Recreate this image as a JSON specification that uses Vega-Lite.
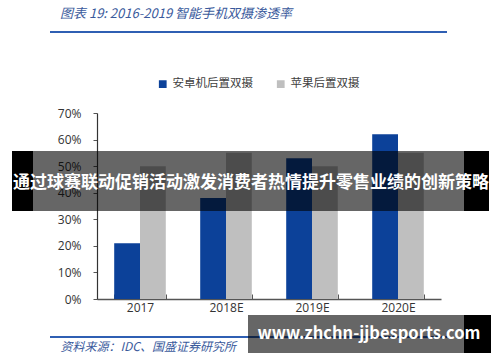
{
  "$schema": "https://vega.github.io/schema/vega-lite/v6.json",
  "autosize": "none",
  "width": 344,
  "height": 186,
  "padding": {"left": 97, "top": 113, "right": 59, "bottom": 63},
  "background": "white",
  "config": {
    "view": {"stroke": null},
    "font": "Noto Sans CJK SC"
  },
  "layer": [
    {
      "data": {"values": [{"px": -47, "px2": 350, "py": -81}, {"px": -47, "px2": 350, "py": 224}]},
      "mark": {"type": "rule", "color": "#2f5fb3", "strokeWidth": 2},
      "encoding": {
        "x": {"field": "px", "type": "quantitative", "scale": null},
        "x2": {"field": "px2"},
        "y": {"field": "py", "type": "quantitative", "scale": null}
      }
    },
    {
      "data": {"values": [
        {"label": "图表 19:  2016-2019 智能手机双摄渗透率", "px": -37, "py": -99}
      ]},
      "mark": {"type": "text", "color": "#3a5a9c", "fontStyle": "italic", "fontSize": 13, "align": "left", "baseline": "middle", "font": "Noto Sans CJK SC"},
      "encoding": {
        "x": {"field": "px", "type": "quantitative", "scale": null},
        "y": {"field": "py", "type": "quantitative", "scale": null},
        "text": {"field": "label"}
      }
    },
    {
      "data": {"values": [
        {"year": "2017", "series": "安卓机后置双摄", "value": 0.21},
        {"year": "2017", "series": "苹果后置双摄", "value": 0.50},
        {"year": "2018E", "series": "安卓机后置双摄", "value": 0.38},
        {"year": "2018E", "series": "苹果后置双摄", "value": 0.55},
        {"year": "2019E", "series": "安卓机后置双摄", "value": 0.53},
        {"year": "2019E", "series": "苹果后置双摄", "value": 0.50},
        {"year": "2020E", "series": "安卓机后置双摄", "value": 0.62},
        {"year": "2020E", "series": "苹果后置双摄", "value": 0.55}
      ]},
      "mark": {"type": "bar"},
      "encoding": {
        "x": {
          "field": "year", "type": "nominal",
          "scale": {"paddingInner": 0.4, "paddingOuter": 0.2},
          "axis": {
            "title": "资料来源：IDC、国盛证券研究所",
            "titleX": -37, "titleY": 47,
            "titleAnchor": "start", "titleAlign": "left", "titleBaseline": "middle",
            "titleFont": "Noto Sans CJK SC", "titleFontSize": 12, "titleFontStyle": "italic",
            "titleFontWeight": "normal", "titleColor": "#3a5a9c",
            "labelAngle": 0, "labelFontSize": 12, "labelColor": "#333333",
            "labelFont": "Open Sans", "labelPadding": 8,
            "domainColor": "#555555", "domainWidth": 1.5,
            "tickBand": "extent", "tickSize": -5, "tickColor": "#555555"
          }
        },
        "xOffset": {"field": "series", "type": "nominal", "sort": ["安卓机后置双摄", "苹果后置双摄"], "scale": {"paddingInner": 0, "paddingOuter": 0}},
        "y": {
          "field": "value", "type": "quantitative",
          "scale": {"domain": [0, 0.7], "nice": false},
          "axis": {
            "title": null, "format": ".0%", "values": [0, 0.1, 0.2, 0.3, 0.4, 0.5, 0.6, 0.7],
            "labelOverlap": false, "labelFlush": false,
            "grid": false, "labelFontSize": 12, "labelColor": "#333333", "labelFont": "Open Sans",
            "labelPadding": 12, "tickSize": 4, "tickColor": "#555555",
            "domainColor": "#333333", "domainWidth": 1.2
          }
        },
        "color": {
          "field": "series", "type": "nominal",
          "sort": ["安卓机后置双摄", "苹果后置双摄"],
          "scale": {"domain": ["安卓机后置双摄", "苹果后置双摄"], "range": ["#0c4199", "#bfbfbf"]},
          "legend": {
            "title": null, "orient": "none", "direction": "horizontal",
            "legendX": 60, "legendY": -35,
            "symbolType": "square", "symbolSize": 60, "symbolStrokeWidth": 0,
            "labelFontSize": 11.5, "labelColor": "#404040", "labelFont": "Noto Sans CJK SC",
            "columnPadding": 22, "labelOffset": 4
          }
        }
      }
    },
    {
      "data": {"values": [
        {"px": -85, "px2": -64, "py": 38, "py2": 98, "o": 1},
        {"px": -64, "px2": 367, "py": 38, "py2": 98, "o": 0.6},
        {"px": 367, "px2": 392, "py": 38, "py2": 98, "o": 1},
        {"px": 151, "px2": 367, "py": 202, "py2": 240, "o": 0.6},
        {"px": 367, "px2": 394, "py": 202, "py2": 240, "o": 1}
      ]},
      "mark": {"type": "rect", "color": "black"},
      "encoding": {
        "x": {"field": "px", "type": "quantitative", "scale": null},
        "x2": {"field": "px2"},
        "y": {"field": "py", "type": "quantitative", "scale": null},
        "y2": {"field": "py2"},
        "opacity": {"field": "o", "type": "quantitative", "scale": null}
      }
    },
    {
      "data": {"values": [
        {"label": "通过球赛联动促销活动激发消费者热情提升零售业绩的创新策略", "px": 154, "py": 70, "f": "Noto Sans CJK SC", "s": 17},
        {"label": "www.zhchn-jjbesports.com", "px": 272, "py": 221, "f": "Open Sans", "s": 16.5}
      ]},
      "mark": {"type": "text", "color": "white", "fontWeight": "bold", "align": "center", "baseline": "middle"},
      "encoding": {
        "x": {"field": "px", "type": "quantitative", "scale": null},
        "y": {"field": "py", "type": "quantitative", "scale": null},
        "text": {"field": "label"},
        "font": {"field": "f"},
        "size": {"field": "s", "type": "quantitative", "scale": null}
      }
    }
  ]
}
